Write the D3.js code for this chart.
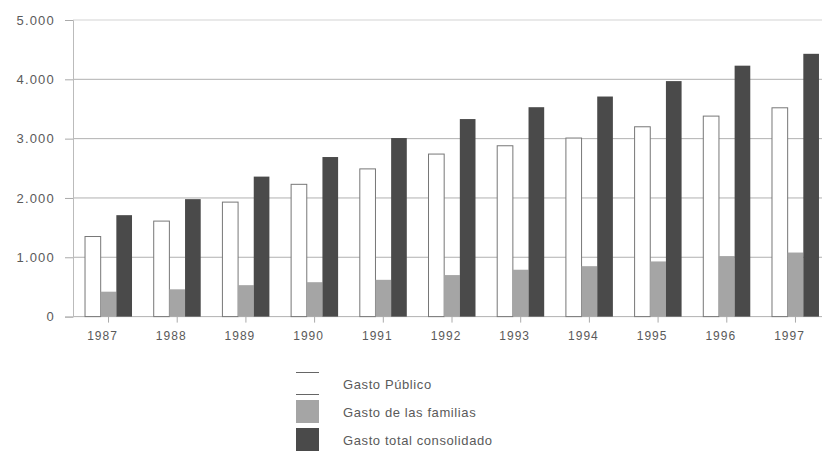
<html>
<head>
<meta charset="utf-8">
<script src="https://d3js.org/d3.v7.min.js"></script>
<style>
  body { margin: 0; background: #fff; }
  text { font-family: "Liberation Sans", Arial, sans-serif; }
</style>
</head>
<body>
<div id="chart"></div>
<script>

// values
var years = ["1987","1988","1989","1990","1991","1992","1993","1994","1995","1996","1997"];
var gastoPublico  = [1350, 1610, 1930, 2230, 2490, 2740, 2880, 3010, 3200, 3380, 3520];
var gastoFamilias = [ 420,  460,  530,  580,  620,  700,  790,  850,  930, 1020, 1080];
var gastoTotal    = [1710, 1980, 2360, 2690, 3010, 3330, 3530, 3710, 3970, 4230, 4430];
var yTicks = [0, 1000, 2000, 3000, 4000, 5000];
var seriesNames = ["Gasto Público", "Gasto de las familias", "Gasto total consolidado"];
var seriesColors = ["#ffffff", "#a5a5a5", "#4a4a4a"];

var W = 825, H = 453;
var svg = d3.select("#chart").append("svg")
  .attr("width", W).attr("height", H);

var x = d3.scaleBand()
  .domain(years)
  .range([73, 831])
  .paddingInner(0.316)
  .paddingOuter(0.175);

var xs = d3.scaleBand()
  .domain([0, 1, 2])
  .range([0, x.bandwidth()]);

var y = d3.scaleLinear()
  .domain([0, 5000])
  .range([316.6, 20]);

var fmt = function(v) { return d3.format(",")(v).replace(/,/g, "."); };

// gridlines
svg.append("g").selectAll("line")
  .data(yTicks)
  .enter().append("line")
    .attr("x1", 73).attr("x2", 822)
    .attr("y1", function(d) { return y(d); })
    .attr("y2", function(d) { return y(d); })
    .attr("stroke", "#aaa")
    .attr("stroke-width", 1)
    .attr("opacity", function(d) { return d === 5000 ? 0.5 : 0.9; });

// y axis
var yAxis = svg.append("g")
  .attr("transform", "translate(73,0)")
  .call(d3.axisLeft(y).tickValues(yTicks).tickFormat(fmt).tickSize(8).tickPadding(10));
yAxis.select(".domain").attr("stroke", "#bbb");
yAxis.selectAll(".tick line").attr("stroke", "#aaa");
yAxis.selectAll("text")
  .attr("fill", "#5a5a5a")
  .style("font-size", "13px")
  .style("letter-spacing", "1.2px");

// x axis
var xAxis = svg.append("g")
  .attr("transform", "translate(0," + y(0) + ")")
  .call(d3.axisBottom(x).tickSize(6).tickPadding(9));
xAxis.select(".domain").remove();
xAxis.selectAll(".tick line").attr("stroke", "#aaa");
xAxis.selectAll("text")
  .attr("fill", "#5a5a5a")
  .attr("dx", "-6")
  .style("font-size", "12px")
  .style("letter-spacing", "1px");

// bars
var series = [gastoPublico, gastoFamilias, gastoTotal];
series.forEach(function(vals, s) {
  svg.append("g").selectAll("rect")
    .data(years)
    .enter().append("rect")
      .attr("x", function(d) { return x(d) + xs(s); })
      .attr("width", xs.bandwidth())
      .attr("y", function(d, i) { return y(vals[i]); })
      .attr("height", function(d, i) { return y(0) - y(vals[i]); })
      .attr("fill", seriesColors[s])
      .attr("stroke", s === 0 ? "#777" : "none")
      .attr("stroke-width", 1);
});

// legend
var legend = svg.append("g").attr("transform", "translate(296,372)");
seriesNames.forEach(function(name, i) {
  var g = legend.append("g").attr("transform", "translate(0," + (i * 28) + ")");
  g.append("rect")
    .attr("width", 23).attr("height", 23)
    .attr("fill", seriesColors[i]);
  if (i === 0) {
    g.append("line").attr("x1", 0).attr("x2", 23).attr("y1", 0.5).attr("y2", 0.5).attr("stroke", "#666");
    g.append("line").attr("x1", 0).attr("x2", 23).attr("y1", 22.5).attr("y2", 22.5).attr("stroke", "#666");
  }
  g.append("text")
    .attr("x", 47).attr("y", 12)
    .attr("dy", "0.35em")
    .attr("fill", "#5a5a5a")
    .style("font-size", "13px")
    .style("letter-spacing", "0.6px")
    .text(name);
});

</script>
</body>
</html>
